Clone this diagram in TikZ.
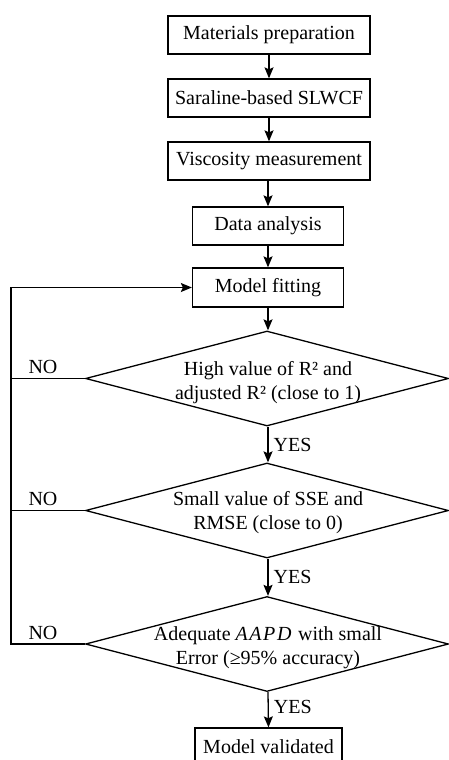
\documentclass[tikz,border=0pt]{standalone}
\usepackage{fontspec}
\setmainfont{Liberation Serif}
\usetikzlibrary{arrows.meta,shapes.geometric}
\begin{document}
\begin{tikzpicture}[x=1pt,y=-1pt,
  txt/.style={font=\fontsize{20}{24}\selectfont},
  procbox/.style={txt, draw, line width=1.3pt, minimum height=38pt, inner sep=0pt},
  decbox/.style={draw, diamond, line width=1.3pt, minimum width=363pt, minimum height=95pt, inner sep=0pt},
  dectext/.style={txt, align=center, inner sep=0pt},
  flow/.style={line width=1.3pt, -{Stealth[length=11pt,width=9pt,inset=2pt]}},
  plainline/.style={line width=1.3pt},
  lbl/.style={txt, inner sep=0pt}]
\useasboundingbox (0,0) rectangle (449,760);

\node[procbox, minimum width=202pt] (mp) at (269,35) {Materials preparation};
\node[procbox, minimum width=202pt] (sb) at (269,98) {Saraline-based SLWCF};
\node[procbox, minimum width=202pt] (vm) at (269,161) {Viscosity measurement};
\node[procbox, minimum width=151pt] (da) at (268,226) {Data analysis};
\node[procbox, minimum width=151pt, minimum height=39pt] (mf) at (268,287.5) {Model fitting};

\node[decbox] (d1) at (267,378.5) {};
\node[dectext] (d1t) at (268,383) {High value of R² and\\adjusted R² (close to 1)};
\node[decbox] (d2) at (267,510.5) {};
\node[dectext] (d2t) at (268,513) {Small value of SSE and\\RMSE (close to 0)};
\node[decbox] (d3) at (267,644) {};
\node[dectext] (d3t) at (268,648) {Adequate \textit{\addfontfeature{LetterSpace=8}AAPD} with small\\Error (≥95\% accuracy)};

\node[procbox, minimum width=147pt] (mv) at (268.5,747) {Model validated};

\coordinate (loop) at (11,644);

\draw[flow] (mp.south) -- (sb.north);
\draw[flow] (sb.south) -- (vm.north);
\draw[flow] (vm.south -| da.south) -- (da.north);
\draw[flow] (da.south) -- (mf.north);
\draw[flow] (mf.south) -- (d1.north -| mf.south);
\draw[flow] (d1.south -| mf.south) -- node[lbl, anchor=west, xshift=5pt] (y1) {YES} (d2.north -| mf.south);
\draw[flow] (d2.south -| mf.south) -- node[lbl, anchor=west, xshift=5pt] (y2) {YES} (d3.north -| mf.south);
\draw[flow] (d3.south -| mf.south) -- node[lbl, anchor=west, xshift=5pt, yshift=3pt] (y3) {YES} (mv.north);

\draw[plainline] (d1.west) -- (d1.west -| loop);
\draw[plainline] (d2.west) -- (d2.west -| loop);
\draw[flow] (d3.west) -- (loop) |- (mf.west);

\node[lbl] (n1) at (43,367) {NO};
\node[lbl] (n2) at (43,499) {NO};
\node[lbl] (n3) at (43,633) {NO};
\end{tikzpicture}
\end{document}
